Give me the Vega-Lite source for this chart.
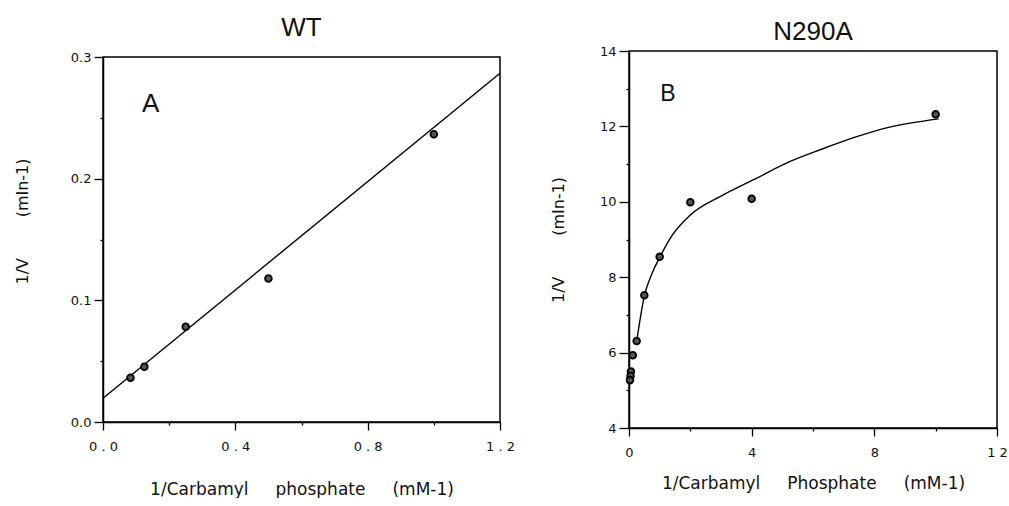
{
  "$schema": "https://vega.github.io/schema/vega-lite/v6.json",
  "background": "white",
  "padding": {"left": 13, "top": 14, "right": 0, "bottom": 0},
  "spacing": 129,
  "bounds": "flush",
  "center": true,
  "datasets": {
    "wt_points": [
      {"x": 0.083, "y": 0.0364},
      {"x": 0.125, "y": 0.0455},
      {"x": 0.25, "y": 0.0783},
      {"x": 0.5, "y": 0.118},
      {"x": 1.0, "y": 0.2365}
    ],
    "wt_fit": [
      {"x": 0.0, "y": 0.0195},
      {"x": 1.2, "y": 0.2866}
    ],
    "wt_label": [{"x": 0.144, "y": 0.261, "label": "A"}],
    "n290a_points": [
      {"x": 10.0, "y": 12.32},
      {"x": 4.0, "y": 10.08},
      {"x": 2.0, "y": 9.99},
      {"x": 1.0, "y": 8.54},
      {"x": 0.5, "y": 7.52},
      {"x": 0.25, "y": 6.31},
      {"x": 0.125, "y": 5.93},
      {"x": 0.0625, "y": 5.5},
      {"x": 0.05, "y": 5.38},
      {"x": 0.03125, "y": 5.27}
    ],
    "n290a_fit": [
      {"x": 0.25, "y": 6.3},
      {"x": 0.5, "y": 7.5},
      {"x": 0.75, "y": 8.1},
      {"x": 1.0, "y": 8.52},
      {"x": 1.4, "y": 9.1},
      {"x": 2.0, "y": 9.65},
      {"x": 3.0, "y": 10.15},
      {"x": 4.1, "y": 10.6},
      {"x": 5.2, "y": 11.05},
      {"x": 6.3, "y": 11.4},
      {"x": 7.4, "y": 11.72},
      {"x": 8.5, "y": 11.98},
      {"x": 10.1, "y": 12.2}
    ],
    "n290a_label": [{"x": 1.27, "y": 12.85, "label": "B"}]
  },
  "config": {
    "view": {"stroke": "black", "strokeWidth": 1.5},
    "axis": {
      "grid": false,
      "domainColor": "black",
      "domainWidth": 1.5,
      "tickColor": "black",
      "tickWidth": 1.3,
      "labelColor": "#111",
      "titleColor": "#111",
      "labelFont": "DejaVu Sans",
      "labelFontSize": 13,
      "titleFont": "DejaVu Sans",
      "titleFontSize": 16,
      "titleFontWeight": "normal",
      "labelFlush": false,
      "labelOverlap": false,
      "labelBound": false
    },
    "title": {"font": "Liberation Sans", "fontSize": 26, "fontWeight": "normal", "color": "#111", "anchor": "middle", "frame": "group"}
  },
  "hconcat": [
    {
      "width": 397,
      "height": 365,
      "title": {"text": "WT", "offset": 10},
      "encoding": {
        "x": {
          "field": "x", "type": "quantitative",
          "scale": {"domain": [0, 1.2], "nice": false, "zero": false},
          "title": "1/Carbamyl\u00a0\u00a0\u00a0\u00a0\u00a0phosphate\u00a0\u00a0\u00a0\u00a0\u00a0(mM-1)",
          "axis": {
            "values": [0, 0.2, 0.4, 0.6, 0.8, 1.0, 1.2],
            "format": ".1f",
            "labelExpr": "round(datum.value*10)%4==0 ? join(split(datum.label,''),' ') : ''",
            "tickSize": {"condition": {"test": "round(datum.value*10)%4==0", "value": 8}, "value": 3},
            "labelPadding": 10,
            "titlePadding": 28,
            "titleFontSize": 17
          }
        },
        "y": {
          "field": "y", "type": "quantitative",
          "scale": {"domain": [0, 0.3], "nice": false, "zero": false},
          "title": "1/V\u00a0\u00a0\u00a0\u00a0\u00a0\u00a0\u00a0\u00a0(mIn-1)",
          "axis": {
            "values": [0, 0.05, 0.1, 0.15, 0.2, 0.25, 0.3],
            "format": ".1f",
            "labelExpr": "round(datum.value*100)%10==0 ? datum.label : ''",
            "tickSize": {"condition": {"test": "round(datum.value*100)%10==0", "value": 9}, "value": 3},
            "labelPadding": 3,
            "titlePadding": 40,
            "titleY": 164
          }
        }
      },
      "layer": [
        {"data": {"name": "wt_fit"}, "mark": {"type": "line", "color": "black", "strokeWidth": 1.4}},
        {"data": {"name": "wt_points"}, "mark": {"type": "circle", "fill": "#555", "fillOpacity": 1, "stroke": "black", "strokeWidth": 1.8, "size": 45}},
        {"data": {"name": "wt_label"}, "mark": {"type": "text", "font": "Liberation Sans", "fontSize": 26, "align": "center", "baseline": "middle", "color": "#111"}, "encoding": {"text": {"field": "label"}}}
      ]
    },
    {
      "width": 368,
      "height": 377,
      "title": {"text": "N290A", "offset": 0},
      "encoding": {
        "x": {
          "field": "x", "type": "quantitative",
          "scale": {"domain": [0, 12], "nice": false, "zero": false},
          "title": "1/Carbamyl\u00a0\u00a0\u00a0\u00a0\u00a0Phosphate\u00a0\u00a0\u00a0\u00a0\u00a0(mM-1)",
          "axis": {
            "values": [0, 2, 4, 6, 8, 10, 12],
            "labelExpr": "datum.value%4==0 ? join(split(datum.label,''),' ') : ''",
            "tickSize": {"condition": {"test": "datum.value%4==0", "value": 8}, "value": 3},
            "labelPadding": 10,
            "titlePadding": 16,
            "titleFontSize": 17
          }
        },
        "y": {
          "field": "y", "type": "quantitative",
          "scale": {"domain": [4, 14], "nice": false, "zero": false},
          "title": "1/V\u00a0\u00a0\u00a0\u00a0\u00a0\u00a0\u00a0\u00a0(mIn-1)",
          "axis": {
            "values": [4, 5, 6, 7, 8, 9, 10, 11, 12, 13, 14],
            "labelExpr": "datum.value%2==0 ? datum.label : ''",
            "tickSize": {"condition": {"test": "datum.value%2==0", "value": 10}, "value": 3},
            "labelPadding": 3,
            "titlePadding": 33
          }
        }
      },
      "layer": [
        {"data": {"name": "n290a_fit"}, "mark": {"type": "line", "color": "black", "strokeWidth": 1.4, "interpolate": "monotone"}},
        {"data": {"name": "n290a_points"}, "mark": {"type": "circle", "fill": "#555", "fillOpacity": 1, "stroke": "black", "strokeWidth": 1.8, "size": 45}},
        {"data": {"name": "n290a_label"}, "mark": {"type": "text", "font": "Liberation Sans", "fontSize": 23, "align": "center", "baseline": "middle", "color": "#111"}, "encoding": {"text": {"field": "label"}}}
      ]
    }
  ]
}
